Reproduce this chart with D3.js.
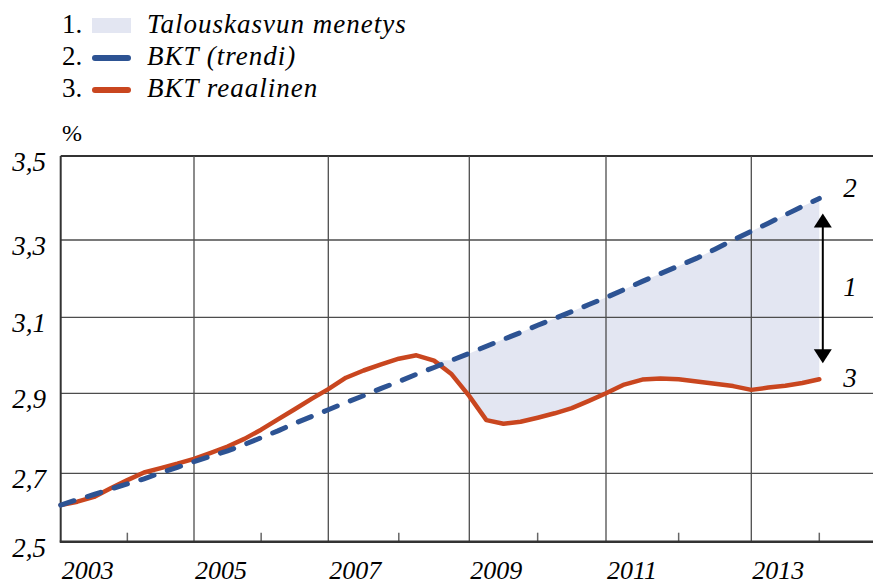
<!DOCTYPE html>
<html>
<head>
<meta charset="utf-8">
<script src="https://cdn.jsdelivr.net/npm/d3@7"></script>
<style>
    body { margin: 0; background: #fff; }
    svg { display: block; }
    svg text { font-family: "Liberation Serif", "DejaVu Serif", "Times New Roman", serif; }
</style>
</head>
<body>
<div id="chart"></div>
<script>
// quarterly series, 2003Q1 .. 2014Q1
var quarters = d3.range(0, 45).map(function(i) { return 2003 + i / 4; });

var bktTrendi = [
    2.607, 2.623, 2.638, 2.654, 2.669, 2.684, 2.701, 2.715, 2.729, 2.743,
    2.756, 2.772, 2.789, 2.806, 2.825, 2.842, 2.859, 2.877, 2.894, 2.913,
    2.931, 2.950, 2.968, 2.987, 3.005, 3.024, 3.042, 3.060, 3.079, 3.097,
    3.115, 3.133, 3.151, 3.172, 3.193, 3.213, 3.233, 3.253, 3.276, 3.300,
    3.321, 3.340, 3.360, 3.380, 3.399
];

var bktReaalinen = [
    2.607, 2.617, 2.631, 2.656, 2.680, 2.702, 2.713, 2.724, 2.736, 2.751,
    2.767, 2.786, 2.809, 2.835, 2.860, 2.886, 2.911, 2.941, 2.960, 2.976,
    2.991, 3.000, 2.986, 2.950, 2.893, 2.833, 2.824, 2.829, 2.839, 2.850,
    2.863, 2.881, 2.900, 2.923, 2.936, 2.939, 2.937, 2.931, 2.925, 2.919,
    2.909, 2.915, 2.920, 2.927, 2.937
];

var yTicks = [2.5, 2.7, 2.9, 3.1, 3.3, 3.5];
var yearLabels = [2003, 2005, 2007, 2009, 2011, 2013];
var minorYears = [2004, 2006, 2008, 2010, 2012, 2014];
var legendLabels = ["Talouskasvun menetys", "BKT (trendi)", "BKT reaalinen"];
var lossStart = 2008.5;   // shaded gap starts where real GDP falls under trend

var width = 873, height = 586;
var plotLeft = 60.7, plotRight = 873, plotTop = 156, plotBottom = 541.7;

var blue = "#2d5393", red = "#c9461f", shade = "#e3e6f2", grid = "#4d4d4d";

var data = quarters.map(function(t, i) {
    return { t: t, trend: bktTrendi[i], real: bktReaalinen[i] };
});

// the printed grid is not quite even, so the scales follow it piece by piece
var x = d3.scaleLinear()
    .domain(yearLabels.concat([2014]))
    .range([plotLeft, 194, 328.3, 469.3, 606, 751.3, 819.3]);
var y = d3.scaleLinear()
    .domain(yTicks)
    .range([plotBottom, 473.3, 393.3, 317.3, 240, plotTop]);

var svg = d3.select("#chart").append("svg")
    .attr("width", width)
    .attr("height", height);

svg.append("rect")
    .attr("width", width)
    .attr("height", height)
    .attr("fill", "#fff");

// legend
var legend = svg.append("g");
legendLabels.forEach(function(label, i) {
    var base = 33 + i * 32;
    legend.append("text")
        .attr("x", 62)
        .attr("y", base)
        .style("font-size", "27px")
        .text((i + 1) + ".");
    if (i === 0) {
        legend.append("rect")
            .attr("x", 92)
            .attr("y", base - 15)
            .attr("width", 39)
            .attr("height", 15)
            .attr("fill", shade);
    } else {
        legend.append("line")
            .attr("x1", 95)
            .attr("x2", 128)
            .attr("y1", base - 7)
            .attr("y2", base - 7)
            .attr("stroke", i === 1 ? blue : red)
            .attr("stroke-width", 6)
            .attr("stroke-linecap", "round");
    }
    legend.append("text")
        .attr("x", 147)
        .attr("y", base)
        .style("font-size", "27px")
        .style("font-style", "italic")
        .style("letter-spacing", "1px")
        .text(label);
});

svg.append("text")
    .attr("x", 62)
    .attr("y", 141)
    .style("font-size", "24px")
    .text("%");

// shaded loss area
var area = d3.area()
    .defined(function(d) { return d.t >= lossStart; })
    .x(function(d) { return x(d.t); })
    .y0(function(d) { return y(d.real); })
    .y1(function(d) { return y(Math.max(d.trend, d.real)); });

svg.append("path")
    .datum(data)
    .attr("d", area)
    .attr("fill", shade);

// grid
svg.selectAll(".hgrid")
    .data(yTicks.filter(function(v) { return v > 2.5; }))
    .enter().append("line")
    .attr("class", "hgrid")
    .attr("x1", plotLeft)
    .attr("x2", plotRight)
    .attr("y1", function(d) { return y(d); })
    .attr("y2", function(d) { return y(d); })
    .attr("stroke", function(d) { return d === 3.5 ? "#333" : grid; })
    .attr("stroke-width", function(d) { return d === 3.5 ? 2 : 1.3; });

svg.selectAll(".vgrid")
    .data(yearLabels.slice(1))
    .enter().append("line")
    .attr("class", "vgrid")
    .attr("x1", function(d) { return x(d); })
    .attr("x2", function(d) { return x(d); })
    .attr("y1", plotTop)
    .attr("y2", plotBottom)
    .attr("stroke", grid)
    .attr("stroke-width", 1.3);

svg.selectAll(".minor")
    .data(minorYears)
    .enter().append("line")
    .attr("class", "minor")
    .attr("x1", function(d) { return x(d); })
    .attr("x2", function(d) { return x(d); })
    .attr("y1", plotBottom - 9)
    .attr("y2", plotBottom)
    .attr("stroke", "#666")
    .attr("stroke-width", 1.5);

// axes
svg.append("line")
    .attr("x1", plotLeft).attr("x2", plotLeft)
    .attr("y1", plotTop).attr("y2", plotBottom)
    .attr("stroke", "#333")
    .attr("stroke-width", 2);

svg.append("line")
    .attr("x1", plotLeft - 1).attr("x2", plotRight)
    .attr("y1", plotBottom).attr("y2", plotBottom)
    .attr("stroke", "#333")
    .attr("stroke-width", 2.5);

svg.selectAll(".ylab")
    .data(yTicks)
    .enter().append("text")
    .attr("class", "ylab")
    .attr("x", 46)
    .attr("y", function(d) { return y(d) + 15; })
    .attr("text-anchor", "end")
    .style("font-size", "27px")
    .style("font-style", "italic")
    .text(function(d) { return d3.format(".1f")(d).replace(".", ","); });

svg.selectAll(".xlab")
    .data(yearLabels)
    .enter().append("text")
    .attr("class", "xlab")
    .attr("x", function(d) { return x(d) + 1; })
    .attr("y", 579)
    .style("font-size", "26px")
    .style("font-style", "italic")
    .text(function(d) { return d; });

// lines
var lineTrend = d3.line()
    .x(function(d) { return x(d.t); })
    .y(function(d) { return y(d.trend); });

var lineReal = d3.line()
    .x(function(d) { return x(d.t); })
    .y(function(d) { return y(d.real); });

svg.append("path")
    .datum(data)
    .attr("d", lineReal)
    .attr("fill", "none")
    .attr("stroke", red)
    .attr("stroke-width", 4.5)
    .attr("stroke-linejoin", "round")
    .attr("stroke-linecap", "round");

svg.append("path")
    .datum(data)
    .attr("d", lineTrend)
    .attr("fill", "none")
    .attr("stroke", blue)
    .attr("stroke-width", 5)
    .attr("stroke-dasharray", "14,14")
    .attr("stroke-linecap", "round");

// double arrow + labels at the end
var last = data[data.length - 1];
var ax = x(last.t) + 3.5;
var yTop = y(last.trend) + 15, yBot = y(last.real) - 16;

svg.append("line")
    .attr("x1", ax).attr("x2", ax)
    .attr("y1", yTop + 10).attr("y2", yBot - 10)
    .attr("stroke", "#000")
    .attr("stroke-width", 2);

svg.append("path")
    .attr("d", d3.line()([[ax, yTop], [ax - 9, yTop + 14], [ax + 9, yTop + 14]]) + "Z")
    .attr("fill", "#000");

svg.append("path")
    .attr("d", d3.line()([[ax, yBot], [ax - 9, yBot - 14], [ax + 9, yBot - 14]]) + "Z")
    .attr("fill", "#000");

var endLabels = [
    { txt: "2", yy: y(last.trend) - 1.5 },
    { txt: "1", yy: (yTop + yBot) / 2 + 8 },
    { txt: "3", yy: y(last.real) + 8 }
];

svg.selectAll(".endlab")
    .data(endLabels)
    .enter().append("text")
    .attr("class", "endlab")
    .attr("x", x(last.t) + 24)
    .attr("y", function(d) { return d.yy; })
    .style("font-size", "27px")
    .style("font-style", "italic")
    .text(function(d) { return d.txt; });
</script>
</body>
</html>
